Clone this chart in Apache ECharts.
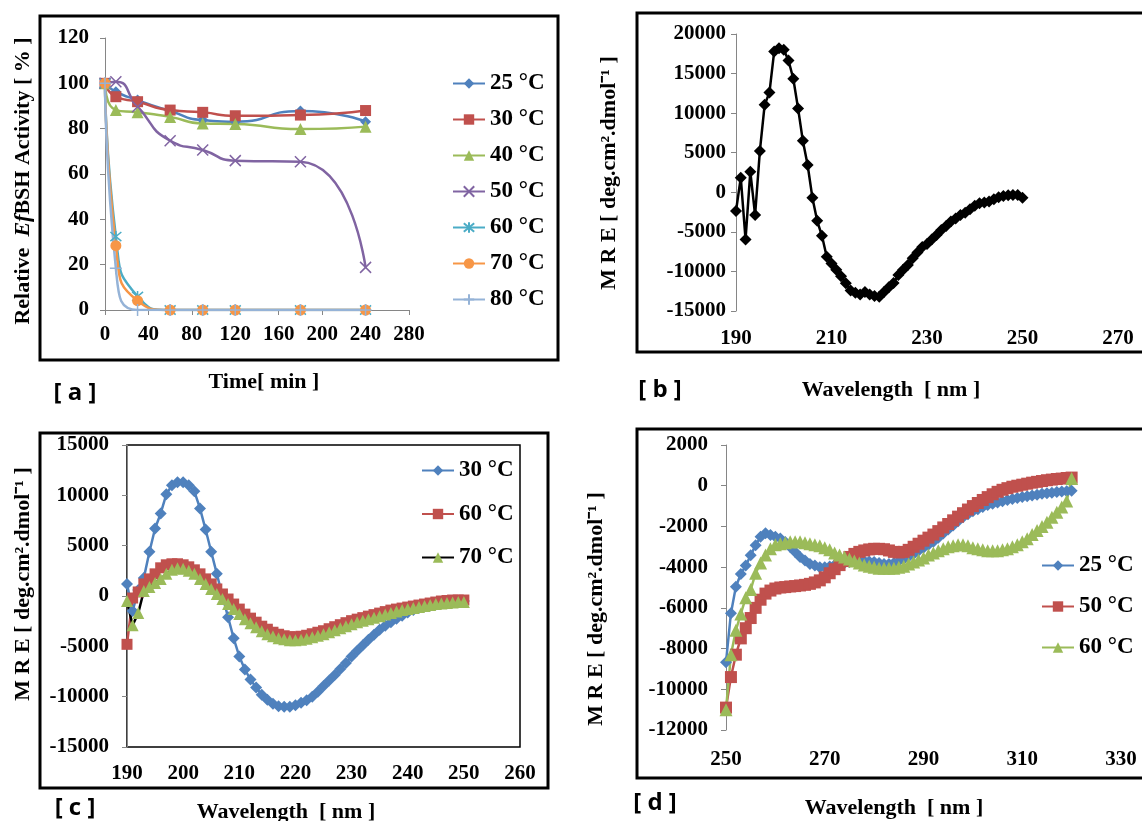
<!DOCTYPE html>
<html>
<head>
<meta charset="utf-8">
<script src="https://cdn.jsdelivr.net/npm/echarts@6/dist/echarts.min.js"></script>
<style>
  html, body { margin: 0; background: #fff; }
  #main { width: 1142px; height: 821px; }
</style>
</head>
<body>
<div id="main"></div>
<script>
// ---- panel a : thermal stability ----
var timeA = [0, 10, 30, 60, 90, 120, 180, 240];
var act25 = [100, 96.3, 92.6, 87.8, 83.8, 83.1, 87.8, 83.1];
var act30 = [100, 94.1, 91.9, 88.2, 87.2, 85.7, 86, 88];
var act40 = [100, 88.2, 87.2, 85.2, 82.3, 82.1, 79.8, 80.9];
var act50 = [100, 100.7, 89.7, 74.7, 70.6, 65.9, 65.4, 18.8];
var act60 = [100, 32.4, 6, 0, 0, 0, 0, 0];
var act70 = [100, 28.4, 4.1, 0, 0, 0, 0, 0];
var act80 = [100, 18.4, 0, 0, 0, 0, 0, 0];

// ---- panel b and c : far-UV CD ----
var wlFar = [190, 191, 192, 193, 194, 195, 196, 197, 198, 199,
  200, 201, 202, 203, 204, 205, 206, 207, 208, 209,
  210, 211, 212, 213, 214, 215, 216, 217, 218, 219,
  220, 221, 222, 223, 224, 225, 226, 227, 228, 229,
  230, 231, 232, 233, 234, 235, 236, 237, 238, 239,
  240, 241, 242, 243, 244, 245, 246, 247, 248, 249, 250];
var mreB = [-2360, 1850, -5950, 2600, -2870, 5230, 11050, 12600, 17800, 18200,
  18000, 16650, 14350, 10600, 6500, 3450, -680, -3600, -5500, -8150,
  -9000, -9800, -10600, -11500, -12400, -12700, -12900, -12600, -12900, -13100,
  -13200, -12600, -12000, -11450, -10450, -9800, -9200, -8350, -7600, -6900,
  -6550, -5950, -5400, -4770, -4260, -3700, -3300, -2870, -2570, -2150,
  -1700, -1400, -1300, -1180, -890, -630, -460, -380, -340, -340, -680];
var mreC30 = [1200, -1500, 600, 1800, 4400, 6700, 8200, 10100, 11000, 11300,
  11300, 11000, 10400, 8700, 6600, 4400, 2200, 0, -2100, -4200,
  -6000, -7300, -8300, -9100, -9800, -10300, -10700, -10950, -11000, -11000,
  -10850, -10600, -10350, -10000, -9500, -8950, -8400, -7850, -7250, -6650,
  -6000, -5450, -4900, -4350, -3850, -3350, -2950, -2600, -2250, -1950,
  -1650, -1400, -1200, -1050, -950, -850, -750, -650, -600, -550, -500];
var mreC60 = [-4800, -200, 400, 1200, 1700, 2200, 2800, 3100, 3200, 3200,
  3100, 2900, 2600, 2200, 1700, 1200, 700, 200, -300, -800,
  -1300, -1800, -2200, -2600, -3000, -3300, -3600, -3800, -3950, -4050,
  -4050, -4000, -3900, -3750, -3600, -3450, -3250, -3050, -2850, -2650,
  -2450, -2300, -2150, -2000, -1850, -1700, -1550, -1400, -1300, -1200,
  -1100, -1000, -900, -800, -700, -600, -500, -450, -400, -400, -400];
var mreC70 = [-500, -2900, -1700, 500, 900, 1300, 1700, 2200, 2600, 2750,
  2700, 2500, 2200, 1700, 1200, 700, 200, -300, -800, -1300,
  -1800, -2300, -2700, -3100, -3500, -3800, -4000, -4200, -4300, -4400,
  -4400, -4350, -4250, -4100, -3950, -3800, -3600, -3400, -3200, -3000,
  -2800, -2600, -2450, -2300, -2150, -2000, -1850, -1700, -1550, -1400,
  -1300, -1200, -1100, -1000, -900, -800, -750, -700, -650, -600, -600];

// ---- panel d : near-UV CD ----
var wlNear = [250, 251, 252, 253, 254, 255, 256, 257, 258, 259,
  260, 261, 262, 263, 264, 265, 266, 267, 268, 269,
  270, 271, 272, 273, 274, 275, 276, 277, 278, 279,
  280, 281, 282, 283, 284, 285, 286, 287, 288, 289,
  290, 291, 292, 293, 294, 295, 296, 297, 298, 299,
  300, 301, 302, 303, 304, 305, 306, 307, 308, 309,
  310, 311, 312, 313, 314, 315, 316, 317, 318, 319, 320];
var mreD25 = [-8670, -6260, -4960, -4340, -3920, -3420, -2920, -2510, -2340, -2420,
  -2510, -2590, -2760, -3010, -3260, -3500, -3670, -3840, -3920, -4000,
  -4000, -3970, -3900, -3850, -3800, -3750, -3720, -3700, -3700, -3720,
  -3750, -3800, -3850, -3850, -3800, -3700, -3600, -3480, -3350, -3200,
  -3050, -2900, -2750, -2550, -2350, -2150, -1950, -1750, -1550, -1400,
  -1250, -1150, -1050, -950, -880, -820, -760, -700, -650, -600,
  -560, -520, -480, -440, -400, -370, -340, -310, -290, -270, -250];
var mreD50 = [-10900, -9400, -8300, -7500, -7000, -6500, -6000, -5600, -5300, -5150,
  -5050, -5000, -4980, -4950, -4930, -4900, -4870, -4820, -4750, -4650,
  -4500, -4300, -4100, -3900, -3700, -3500, -3350, -3250, -3180, -3130,
  -3100, -3100, -3120, -3180, -3250, -3280, -3250, -3150, -3000, -2850,
  -2700, -2550, -2400, -2230, -2050, -1880, -1700, -1520, -1350, -1170,
  -1000, -850, -700, -560, -420, -300, -200, -120, -50, 0,
  50, 100, 150, 190, 230, 270, 300, 330, 350, 380, 400];
var mreD60 = [-11000, -8300, -7100, -6300, -5500, -5100, -4300, -3800, -3400, -3100,
  -2900, -2850, -2800, -2750, -2750, -2750, -2800, -2850, -2900, -2950,
  -3050, -3150, -3300, -3400, -3500, -3600, -3700, -3800, -3900, -3950,
  -4000, -4050, -4050, -4050, -4050, -4000, -3950, -3850, -3750, -3650,
  -3550, -3400, -3300, -3200, -3100, -3000, -2950, -2900, -2900, -2950,
  -3050, -3100, -3150, -3200, -3200, -3200, -3150, -3100, -3000, -2900,
  -2750, -2600, -2400, -2200, -2000, -1800, -1550, -1300, -1050, -750, 350];

var legendText = {
  a25: '25 °C', a30: '30 °C', a40: '40 °C', a50: '50 °C', a60: '60 °C', a70: '70 °C', a80: '80 °C',
  c30: '30 °C', c60: '60 °C', c70: '70 °C',
  d25: '25 °C', d50: '50 °C', d60: '60 °C'
};

var SERIF = '"Liberation Serif", "Times New Roman", serif';
var SANS = '"Open Sans", "Liberation Sans", sans-serif';
var BLUE = '#4F81BD', RED = '#C0504D', GREEN = '#9BBB59', PURPLE = '#8064A2',
    TEAL = '#4BACC6', ORANGE = '#F79646', LIGHT = '#95B3D7';
var CROSS = 'path://M0,0L10,10M10,0L0,10';
var STAR = 'path://M0,0L10,10M10,0L0,10M5,-1L5,11';
var PLUS = 'path://M5,0L5,10M0,5L10,5';

function pairs(xs, ys) {
  return xs.map(function (x, i) { return [x, ys[i]]; });
}

function lineSeries(name, idx, xs, ys, color, symbol, size, opts) {
  opts = opts || {};
  var stroked = symbol.indexOf('path://') === 0;
  return {
    name: name,
    type: 'line',
    xAxisIndex: idx,
    yAxisIndex: idx,
    data: pairs(xs, ys),
    smooth: opts.smooth || false,
    symbol: symbol,
    symbolSize: size,
    showAllSymbol: true,
    lineStyle: { color: opts.lineColor || color, width: opts.width || 2.5 },
    itemStyle: stroked ? { color: color, borderColor: color, borderWidth: 1.5 } : { color: color },
    emphasis: { disabled: true }
  };
}

var tickFont = { fontFamily: SERIF, fontWeight: 'bold', fontSize: 21, color: '#000',
                 formatter: function (v) { return String(v); } };
var greyLine = { color: '#868686', width: 1 };

function xAxisOf(idx, min, max, interval, showLine, margin) {
  return {
    gridIndex: idx, type: 'value', min: min, max: max, interval: interval,
    axisLine: { show: showLine, onZero: false, lineStyle: greyLine },
    axisTick: { show: showLine, length: 5, lineStyle: greyLine },
    splitLine: { show: false },
    axisLabel: Object.assign({ margin: margin }, tickFont)
  };
}
function yAxisOf(idx, min, max, interval, margin) {
  return {
    gridIndex: idx, type: 'value', min: min, max: max, interval: interval,
    axisLine: { show: true, onZero: false, lineStyle: greyLine },
    axisTick: { show: true, length: 5, lineStyle: greyLine },
    splitLine: { show: false },
    axisLabel: Object.assign({ margin: margin }, tickFont)
  };
}

function legendOf(names, left, top, gap) {
  return {
    data: names, orient: 'vertical', left: left, top: top, padding: 0,
    itemGap: gap, itemWidth: 32, itemHeight: 13,
    formatter: function (n) { return legendText[n]; },
    textStyle: { fontFamily: SERIF, fontWeight: 'bold', fontSize: 23, color: '#000', lineHeight: 22 },
    selectedMode: false
  };
}

function label(text, x, y, opts) {
  opts = opts || {};
  return {
    type: 'text', x: x, y: y, rotation: opts.rotate ? Math.PI / 2 : 0, silent: true,
    style: {
      text: text,
      fontFamily: opts.family || SERIF, fontWeight: 'bold', fontSize: opts.size || 22,
      fill: '#000', align: 'center', verticalAlign: 'middle',
      rich: opts.rich
    }
  };
}

function box(x, y, w, h) {
  return { type: 'rect', silent: true, shape: { x: x, y: y, width: w, height: h },
           style: { fill: 'none', stroke: '#000', lineWidth: 3 } };
}

var MRE = 'M R E [ deg.cm².dmol⁻¹ ]';
var serifRich = {
  n: { fontFamily: SERIF, fontWeight: 'bold', fontSize: 22, fill: '#000' },
  i: { fontFamily: SERIF, fontWeight: 'bold', fontStyle: 'italic', fontSize: 22, fill: '#000' }
};

var chart = echarts.init(document.getElementById('main'));
chart.setOption({
  animation: false,
  backgroundColor: '#fff',
  grid: [
    { left: 105, top: 38, width: 304, height: 272 },
    { left: 736, top: 34, width: 382, height: 277 },
    { left: 127, top: 445, width: 393, height: 302, show: true, borderColor: '#000', borderWidth: 1.5 },
    { left: 726, top: 445, width: 395, height: 285 }
  ],
  xAxis: [
    xAxisOf(0, 0, 280, 40, true, 14),
    xAxisOf(1, 190, 270, 20, false, 17),
    xAxisOf(2, 190, 260, 10, false, 16),
    xAxisOf(3, 250, 330, 20, false, 19)
  ],
  yAxis: [
    yAxisOf(0, 0, 120, 20, 16),
    yAxisOf(1, -15000, 20000, 5000, 10),
    yAxisOf(2, -15000, 15000, 5000, 18),
    yAxisOf(3, -12000, 2000, 2000, 18)
  ],
  legend: [
    legendOf(['a25', 'a30', 'a40', 'a50', 'a60', 'a70', 'a80'], 452, 72, 13),
    legendOf(['c30', 'c60', 'c70'], 421, 459, 20.5),
    legendOf(['d25', 'd50', 'd60'], 1041, 554, 18)
  ],
  graphic: [
    box(40, 16, 518, 344),
    box(637, 13, 520, 339),
    box(40, 433, 508, 355),
    box(637, 429, 520, 349),
    label('{n|Relative  }{i|Ef}{n|BSH Activity [ % ]}', 23, 181, { rotate: true, rich: serifRich }),
    label('Time[ min ]', 264, 382),
    label('[ a ]', 75, 393, { family: SANS, size: 24 }),
    label(MRE, 609, 173, { rotate: true }),
    label('Wavelength  [ nm ]', 891, 390),
    label('[ b ]', 660, 390, { family: SANS, size: 24 }),
    label(MRE, 23, 584, { rotate: true }),
    label('Wavelength  [ nm ]', 286, 812),
    label('[ c ]', 75, 808, { family: SANS, size: 24 }),
    label(MRE, 596, 609, { rotate: true }),
    label('Wavelength  [ nm ]', 894, 808),
    label('[ d ]', 655, 803, { family: SANS, size: 24 })
  ],
  series: [
    lineSeries('a25', 0, timeA, act25, BLUE, 'diamond', 11, { smooth: 0.6 }),
    lineSeries('a30', 0, timeA, act30, RED, 'rect', 11, { smooth: 0.6 }),
    lineSeries('a40', 0, timeA, act40, GREEN, 'triangle', 12, { smooth: 0.6 }),
    lineSeries('a50', 0, timeA, act50, PURPLE, CROSS, 11, { smooth: 0.6 }),
    lineSeries('a60', 0, timeA, act60, TEAL, STAR, 11, { smooth: 0.6 }),
    lineSeries('a70', 0, timeA, act70, ORANGE, 'circle', 11, { smooth: 0.6 }),
    lineSeries('a80', 0, timeA, act80, LIGHT, PLUS, 12, { smooth: 0.6 }),

    lineSeries('b', 1, wlFar, mreB, '#000', 'diamond', 12, { width: 2.5 }),

    lineSeries('c30', 2, wlFar, mreC30, BLUE, 'diamond', 12, { width: 2.5 }),
    lineSeries('c60', 2, wlFar, mreC60, RED, 'rect', 11, { width: 2.5 }),
    lineSeries('c70', 2, wlFar, mreC70, GREEN, 'triangle', 12, { width: 2.5, lineColor: '#000' }),

    lineSeries('d25', 3, wlNear, mreD25, BLUE, 'diamond', 12, { width: 2.5 }),
    lineSeries('d50', 3, wlNear, mreD50, RED, 'rect', 12, { width: 2.5 }),
    lineSeries('d60', 3, wlNear, mreD60, GREEN, 'triangle', 13, { width: 2.5 })
  ]
});
</script>
</body>
</html>
